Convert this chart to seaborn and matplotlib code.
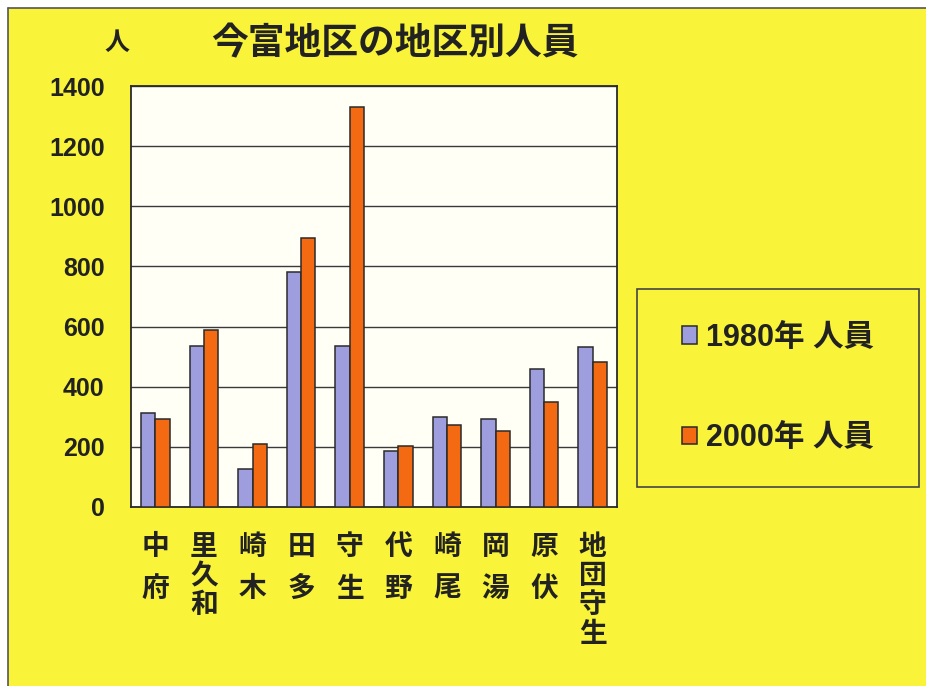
import matplotlib
matplotlib.use("Agg")
import matplotlib.pyplot as plt
import seaborn as sns
import pandas as pd
from matplotlib.lines import Line2D
from matplotlib.patches import Rectangle

# ---- data ----
districts = ["府中", "和久里", "木崎", "多田", "生守", "野代", "尾崎", "湯岡", "伏原", "生守団地"]
members_1980 = [314, 537, 128, 783, 537, 187, 300, 291, 458, 533]
members_2000 = [294, 587, 211, 894, 1331, 202, 272, 252, 350, 483]
series_names = ["1980年 人員", "2000年 人員"]
y_ticks = [0, 200, 400, 600, 800, 1000, 1200, 1400]
title_text = "今富地区の地区別人員"
unit_text = "人"

# ---- style ----
YELLOW = "#f9f43a"
PLOT_BG = "#fffff6"
COLORS = ["#9e9edf", "#f46a12"]
DARK = "#2a2a2a"

sns.set_theme(style="white")
plt.rcParams["font.family"] = ["Liberation Sans", "Noto Sans CJK JP", "DejaVu Sans"]

W, H = 926, 686
fig = plt.figure(figsize=(W / 100, H / 100), dpi=100)
fig.patch.set_facecolor("white")
fig.add_artist(Rectangle((8 / W, 0), 1 - 8 / W, 1 - 8 / H, transform=fig.transFigure,
                         facecolor=YELLOW, edgecolor="none", zorder=0))
fig.add_artist(Line2D([8 / W, 8 / W], [0, 1 - 8 / H], transform=fig.transFigure,
                      color="#555555", lw=1.2, zorder=1))
fig.add_artist(Line2D([8 / W, 1], [1 - 8 / H, 1 - 8 / H], transform=fig.transFigure,
                      color="#555555", lw=1.2, zorder=1))

left, right, top, bottom = 131, 617, 86, 507
ax = fig.add_axes([left / W, (H - bottom) / H, (right - left) / W, (bottom - top) / H])
ax.set_facecolor(PLOT_BG)

df = pd.DataFrame({
    "地区": districts * 2,
    "人員": members_1980 + members_2000,
    "系列": [series_names[0]] * len(districts) + [series_names[1]] * len(districts),
})

sns.barplot(data=df, x="地区", y="人員", hue="系列", palette=COLORS, saturation=1,
            width=0.59, gap=0, edgecolor=DARK, linewidth=1.1, ax=ax, zorder=3)

handles, labels = ax.get_legend_handles_labels()
if ax.get_legend() is not None:
    ax.get_legend().remove()

ax.set_ylim(0, 1400)
ax.set_xlim(-0.5, len(districts) - 0.5)
ax.set_yticks(y_ticks)
ax.set_yticklabels([str(v) for v in y_ticks], fontsize=18, fontweight="bold", color="#222222")
ax.yaxis.grid(True, color="#3a3a3a", lw=1.0, zorder=0)
ax.set_axisbelow(True)
ax.set_xlabel("")
ax.set_ylabel("")

ax.set_xticks(range(len(districts)))
ax.set_xticklabels(["\n".join(reversed(d)) for d in districts], fontsize=20,
                   fontweight="bold", color="#222222", va="top")
for lab, name in zip(ax.get_xticklabels(), districts):
    lab.set_linespacing(1.8 if len(name) == 2 else 1.15)

ax.set_xticks([i + 0.5 for i in range(len(districts) - 1)], minor=True)
ax.tick_params(axis="x", which="major", length=0, pad=20)
ax.tick_params(axis="x", which="minor", direction="in", length=5, width=1, color=DARK)
ax.tick_params(axis="y", which="major", length=0, pad=19)

for s in ax.spines.values():
    s.set_color(DARK)
    s.set_linewidth(1.3)

# title and unit
fig.text(395 / W, 1 - 45 / H, title_text, ha="center", va="center",
         fontsize=26.5, fontweight="bold", color="#222222")
fig.text(117 / W, 1 - 43 / H, unit_text, ha="center", va="center",
         fontsize=18, fontweight="bold", color="#222222")

# legend box
fig.add_artist(Rectangle((637 / W, 1 - 487 / H), (919 - 637) / W, (487 - 289) / H,
                         transform=fig.transFigure, facecolor="none",
                         edgecolor="#444444", lw=1.2, zorder=2))
leg = fig.legend(handles, labels, loc="center", bbox_to_anchor=(778 / W, 1 - 388 / H),
                 frameon=False, prop={"weight": "bold", "size": 22},
                 handlelength=0.5, handleheight=0.5, handletextpad=0.3,
                 labelspacing=2.3)
for t in leg.get_texts():
    t.set_color("#222222")
for h in leg.legend_handles:
    h.set_edgecolor(DARK)
    h.set_linewidth(1.1)

fig.savefig("out.png", dpi=100, facecolor=fig.get_facecolor())
